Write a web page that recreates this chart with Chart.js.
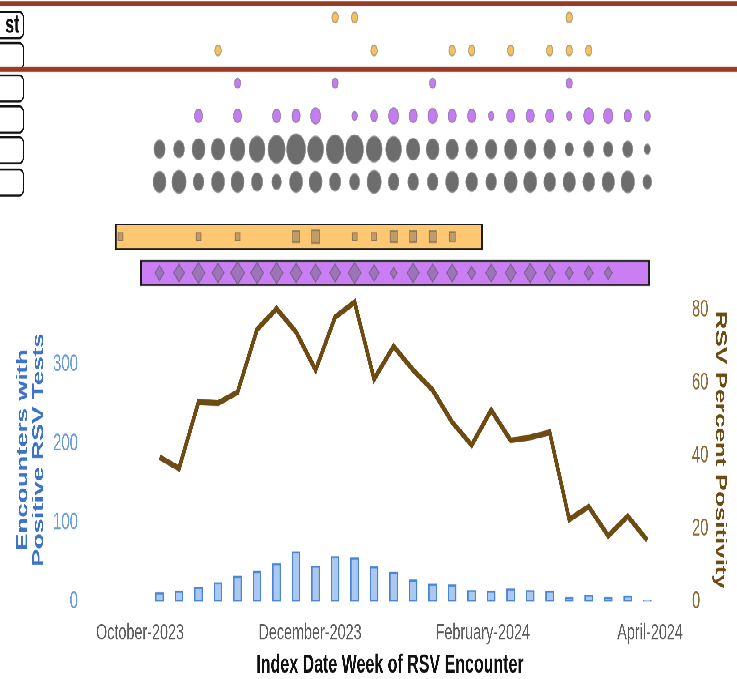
<!DOCTYPE html>
<html>
<head>
<meta charset="utf-8">
<script src="https://cdn.jsdelivr.net/npm/chart.js@4.4.1/dist/chart.umd.min.js"></script>
<style>
  html, body { margin: 0; padding: 0; background: #fff; overflow: hidden; }
  /* the source image is stretched vertically, so draw flat and stretch the stage */
  #stage { position: absolute; left: 0; top: 0; width: 737px; height: 419px; transform: scaleY(1.6205); transform-origin: 0 0; }
  .pane { position: absolute; left: 0; width: 737px; }
  #topPane { top: 0; height: 182px; }
  #bottomPane { top: 182px; height: 237px; }
</style>
</head>
<body>
<div id="stage">
  <div class="pane" id="topPane"><canvas id="dotsChart"></canvas></div>
  <div class="pane" id="bottomPane"><canvas id="rsvChart"></canvas></div>
</div>
<script>
// ---- data -------------------------------------------------------------
const weeks = ["2023-10-08", "2023-10-15", "2023-10-22", "2023-10-29", "2023-11-05", "2023-11-12",
  "2023-11-19", "2023-11-26", "2023-12-03", "2023-12-10", "2023-12-17", "2023-12-24", "2023-12-31",
  "2024-01-07", "2024-01-14", "2024-01-21", "2024-01-28", "2024-02-04", "2024-02-11", "2024-02-18",
  "2024-02-25", "2024-03-03", "2024-03-10", "2024-03-17", "2024-03-24", "2024-03-31"];

const positiveEncounters = [11, 13, 18, 24, 32, 38, 48, 63, 45, 57, 55, 44, 37, 27, 22, 21, 14, 13, 16, 14, 13, 5, 8, 5, 7, 2];
const percentPositivity = [39.6, 36.5, 54.7, 54.4, 57.4, 74.6, 80.3, 73.9, 63.5, 78, 82.1, 61, 70, 63.5, 58, 49.2, 42.9, 52.5, 44.2, 45, 46.4, 22.5, 26, 18, 23.4, 16.8];

const xTickDates = ["2023-10-01", "2023-12-01", "2024-02-01", "2024-04-01"];
const xTickLabels = ["October-2023", "December-2023", "February-2024", "April-2024"];
const leftTicks = [0, 100, 200, 300];
const rightTicks = [0, 20, 40, 60, 80];

// weekly dot rows (top panel), 0 = no dot
const rowOrange1 = [0,0,0,0,0,0,0,0,0,10,10,0,0,0,0,0,0,0,0,0,0,10,0,0,0,0];
const rowOrange2 = [0,0,0,10,0,0,0,0,0,0,0,10,0,0,0,10,10,0,10,0,10,10,10,0,0,0];
const rowPurple1 = [0,0,0,0,9,0,0,0,0,9,0,0,0,0,9,0,0,0,0,0,0,9,0,0,0,0];
const rowPurple2 = [0,0,16,0,16,0,16,16,24,0,7,11,24,16,21,16,16,7,16,16,16,7,24,21,13,9];
const rowGrey1 = [30,27,41,44,53,62,72,88,62,77,77,62,60,44,40,37,33,33,37,33,33,16,24,21,24,9];
const rowGrey2 = [41,49,27,41,41,30,21,41,41,30,24,49,27,27,27,41,33,27,41,41,33,37,33,37,44,18];

// span bars with weekly markers
const spanRanges = [["2023-09-22", "2024-02-01"], ["2023-10-01", "2024-04-01"]];
const orangeMarkerWeeks = ["2023-09-24", "2023-10-22", "2023-11-05", "2023-11-26", "2023-12-03", "2023-12-17",
  "2023-12-24", "2023-12-31", "2024-01-07", "2024-01-14", "2024-01-21"];
const orangeMarkerSizes = [12, 12, 12, 25, 32, 12, 12, 25, 25, 25, 18];
const purpleMarkerSizes = [20,30,42,36,49,42,42,36,30,30,42,25,12,36,30,30,16,30,30,36,30,16,20,16];

// ---- layout -----------------------------------------------------------
const X_MIN = -16.15, X_MAX = 195.55;          // days from 1 Oct 2023
const rowLevels = [0.53, 1.53, 2.52, 3.51, 4.52, 5.51];
const spanLevels = [7.17, 8.27];
const boxLevels = [0.76, 1.7, 2.68, 3.62, 4.55, 5.53];
const ruleLevels = [0.106, 2.106];

const FONT = "'Liberation Sans', Arial, sans-serif";
const DAY0 = Date.UTC(2023, 9, 1);
const dayOf = s => (Date.parse(s) - DAY0) / 864e5;

Chart.defaults.font.family = FONT;

function bubbleRow(values, level, fill, edge) {
  return {
    type: "bubble",
    data: weeks.map((w, i) => ({ x: dayOf(w), y: level, r: Math.sqrt(values[i]) })).filter(p => p.r > 0),
    backgroundColor: fill,
    borderColor: edge,
    borderWidth: 1,
    order: 1,
  };
}

const rowDecor = {
  id: "rowDecor",
  beforeDatasetsDraw(chart) {
    const { ctx, scales: { y } } = chart;
    ctx.save();
    ctx.lineWidth = 1.2;
    ctx.strokeStyle = "#111";
    ctx.fillStyle = "#fff";
    boxLevels.forEach(lv => {
      const cy = y.getPixelForValue(lv);
      ctx.beginPath();
      ctx.roundRect(-30, cy - 8.1, 53.5, 16.2, 4);
      ctx.fill();
      ctx.stroke();
    });
    ctx.fillStyle = "#111";
    ctx.font = "bold 16px " + FONT;
    ctx.textAlign = "right";
    ctx.textBaseline = "middle";
    ctx.fillText("st", 19.5, y.getPixelForValue(boxLevels[0]) + 0.5);
    ctx.fillStyle = "#9b3a24";
    ruleLevels.forEach(lv => {
      const cy = y.getPixelForValue(lv);
      ctx.fillRect(0, cy - 1.5, chart.width, 3);
    });
    ctx.restore();
  },
};

// ---- top panel: dot rows + span bars ----------------------------------
new Chart(document.getElementById("dotsChart"), {
  type: "bubble",
  data: {
    datasets: [
      bubbleRow(rowOrange1, rowLevels[0], "#f6c15e", "rgba(170,150,120,0.8)"),
      bubbleRow(rowOrange2, rowLevels[1], "#f6c15e", "rgba(170,150,120,0.8)"),
      bubbleRow(rowPurple1, rowLevels[2], "#c57cf0", "rgba(150,120,170,0.8)"),
      bubbleRow(rowPurple2, rowLevels[3], "#c57cf0", "rgba(150,120,170,0.8)"),
      bubbleRow(rowGrey1, rowLevels[4], "#6d6d6d", "rgba(130,130,130,0.7)"),
      bubbleRow(rowGrey2, rowLevels[5], "#6d6d6d", "rgba(130,130,130,0.7)"),
      {
        type: "bubble",
        data: orangeMarkerWeeks.map((w, i) => ({ x: dayOf(w), y: spanLevels[0], r: Math.sqrt(orangeMarkerSizes[i]) })),
        pointStyle: "rect",
        backgroundColor: "rgba(115,105,100,0.45)",
        borderColor: "rgba(90,80,70,0.5)",
        borderWidth: 1,
        order: 1,
      },
      {
        type: "bubble",
        data: purpleMarkerSizes.map((v, i) => ({ x: dayOf(weeks[i]), y: spanLevels[1], r: Math.sqrt(v) })),
        pointStyle: "rectRot",
        backgroundColor: "rgba(105,105,110,0.45)",
        borderColor: "rgba(90,80,100,0.5)",
        borderWidth: 1,
        order: 1,
      },
      {
        type: "bar",
        indexAxis: "y",
        data: spanRanges.map((r, i) => ({ y: spanLevels[i], x: [dayOf(r[0]), dayOf(r[1])] })),
        backgroundColor: ["#fec872", "#c97ff3"],
        borderColor: "#1a1a1a",
        borderWidth: { left: 2, right: 2, top: 1, bottom: 1 },
        borderSkipped: false,
        barThickness: 15.4,
        order: 5,
      },
    ],
  },
  options: {
    responsive: true,
    maintainAspectRatio: false,
    animation: false,
    devicePixelRatio: 3,
    layout: { padding: { left: 95, right: 52, top: 0, bottom: 0 }, autoPadding: false },
    plugins: { legend: { display: false }, tooltip: { enabled: false } },
    scales: {
      x: { type: "linear", display: false, offset: false, min: X_MIN, max: X_MAX },
      y: { type: "linear", display: false, offset: false, reverse: true, min: 0, max: 8.935 },
    },
  },
  plugins: [rowDecor],
});

// ---- bottom panel: encounters (bars) and positivity (line) ------------
new Chart(document.getElementById("rsvChart"), {
  data: {
    datasets: [
      {
        type: "line",
        data: weeks.map((w, i) => ({ x: dayOf(w), y: percentPositivity[i] })),
        yAxisID: "yR",
        borderColor: "#6e4b12",
        borderWidth: 3.6,
        pointRadius: 0,
        tension: 0,
        order: 1,
      },
      {
        type: "bar",
        data: weeks.map((w, i) => ({ x: dayOf(w), y: positiveEncounters[i] })),
        yAxisID: "yL",
        backgroundColor: "#abc8ef",
        borderColor: "#4a84d6",
        borderWidth: 1.3,
        borderSkipped: false,
        barThickness: 8,
        order: 2,
      },
    ],
  },
  options: {
    responsive: true,
    maintainAspectRatio: false,
    animation: false,
    devicePixelRatio: 3,
    layout: { padding: { left: 0, right: 0, top: 2, bottom: 0 }, autoPadding: false },
    plugins: { legend: { display: false }, tooltip: { enabled: false } },
    scales: {
      x: {
        type: "linear",
        offset: false,
        min: X_MIN,
        max: X_MAX,
        grid: { display: false, drawTicks: false },
        border: { display: false },
        afterBuildTicks: s => { s.ticks = xTickDates.map(d => ({ value: dayOf(d) })); },
        afterFit: s => { s.height = 47.8; s.paddingLeft = 0; s.paddingRight = 0; },
        ticks: {
          autoSkip: false,
          maxRotation: 0,
          padding: 11,
          color: "#5a5a5a",
          font: { size: 14.4 },
          callback: (v, i) => xTickLabels[i],
        },
        title: {
          display: true,
          text: "Index Date Week of RSV Encounter",
          color: "#111",
          font: { size: 16, weight: "bold", lineHeight: 1 },
          padding: { top: 0, bottom: 0.5 },
        },
      },
      yL: {
        type: "linear",
        position: "left",
        min: 0,
        max: 384,
        grid: { display: false, drawTicks: false },
        border: { display: false },
        afterBuildTicks: s => { s.ticks = leftTicks.map(v => ({ value: v })); },
        afterFit: s => { s.width = 95; s.paddingTop = 0; s.paddingBottom = 0; },
        ticks: { padding: 17, color: "#6a9be0", font: { size: 15 } },
        title: {
          display: true,
          text: ["Encounters with", "Positive RSV Tests"],
          color: "#3b74c9",
          font: { size: 16, weight: "bold", lineHeight: 1 },
          padding: { top: 15, bottom: 0 },
        },
      },
      yR: {
        type: "linear",
        position: "right",
        min: 0,
        max: 83.2,
        grid: { display: false, drawTicks: false },
        border: { display: false },
        afterBuildTicks: s => { s.ticks = rightTicks.map(v => ({ value: v })); },
        afterFit: s => { s.width = 52; s.paddingTop = 0; s.paddingBottom = 0; },
        ticks: { padding: 7, color: "#8b6b33", font: { size: 14.7 } },
        title: {
          display: true,
          text: "RSV Percent Positivity",
          color: "#6e4b12",
          font: { size: 16, weight: "bold", lineHeight: 1 },
          padding: { top: 9, bottom: 0 },
        },
      },
    },
  },
});
</script>
</body>
</html>
